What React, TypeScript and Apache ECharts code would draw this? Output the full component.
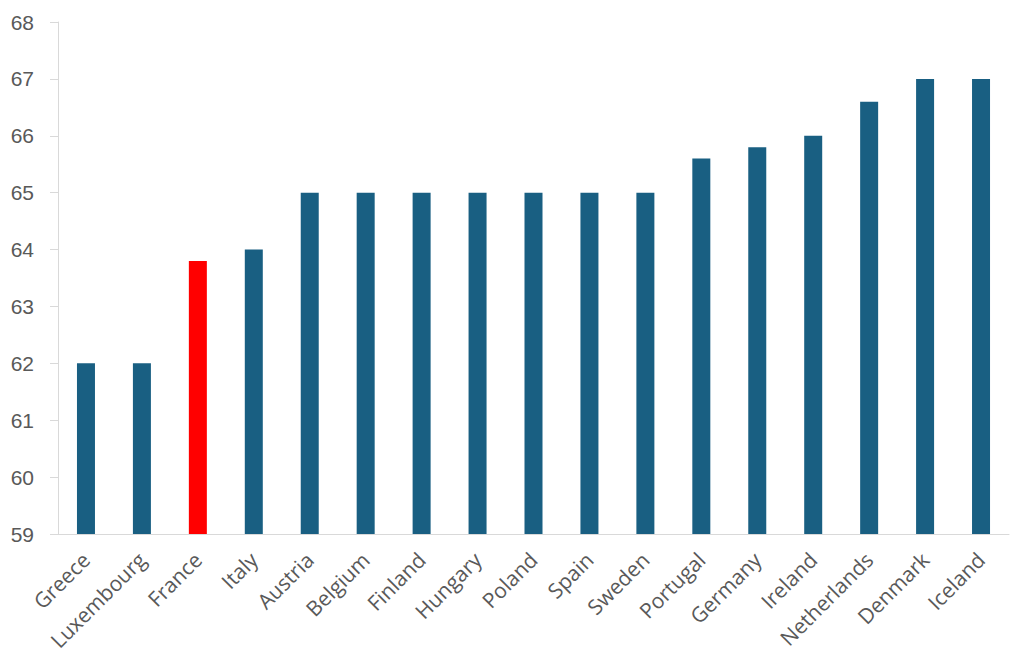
import React, { useEffect, useRef } from "react";
import * as echarts from "echarts";

const categories = ["Greece", "Luxembourg", "France", "Italy", "Austria", "Belgium", "Finland", "Hungary", "Poland", "Spain", "Sweden", "Portugal", "Germany", "Ireland", "Netherlands", "Denmark", "Iceland"];
const values = [62, 62, 63.8, 64, 65, 65, 65, 65, 65, 65, 65, 65.6, 65.8, 66, 66.6, 67, 67];
const yTicks = { min: 59, max: 68, interval: 1 };
const highlight = "France";
const baseColor = "#195f82";
const highlightColor = "#ff0000";

export default function App() {
  const ref = useRef<HTMLDivElement>(null);
  useEffect(() => {
    const chart = echarts.init(ref.current!, null, { renderer: "svg" });
    chart.setOption({
      animation: false,
      grid: { left: 58, right: 15, top: 22, bottom: 135, containLabel: false },
      xAxis: {
        type: "category",
        data: categories,
        axisLine: { lineStyle: { color: "#d9d9d9", width: 1 } },
        axisTick: { show: false },
        axisLabel: { rotate: 45, fontSize: 21, color: "#595959", fontFamily: "Open Sans, sans-serif", margin: 22, interval: 0 },
      },
      yAxis: {
        type: "value",
        min: yTicks.min,
        max: yTicks.max,
        interval: yTicks.interval,
        splitLine: { show: false },
        axisLine: { show: true, lineStyle: { color: "#d9d9d9", width: 1 } },
        axisTick: { show: true, length: 8, lineStyle: { color: "#d9d9d9" } },
        axisLabel: { fontSize: 21, color: "#595959", fontFamily: "Liberation Sans, Arial, sans-serif", margin: 24 },
      },
      series: [
        {
          type: "bar",
          barWidth: 18,
          data: categories.map((c, i) => ({
            value: values[i],
            itemStyle: { color: c === highlight ? highlightColor : baseColor },
          })),
        },
      ],
    });
    return () => chart.dispose();
  }, []);
  return <div ref={ref} style={{ width: 1024, height: 669, position: "absolute", left: 0, top: 0 }} />;
}
